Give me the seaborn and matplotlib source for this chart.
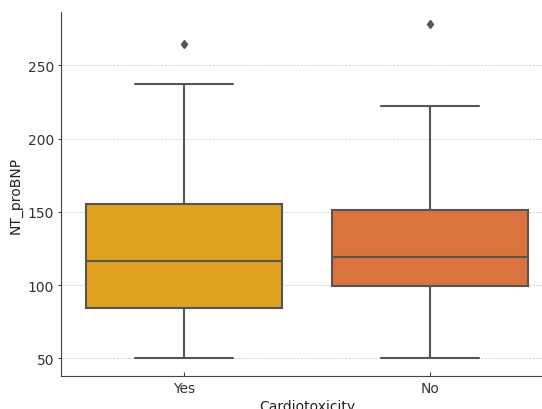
import matplotlib
matplotlib.use("Agg")
import matplotlib.pyplot as plt
import seaborn as sns
import pandas as pd

categories = ["Yes", "No"]
yes_values = [50, 70, 84, 100, 116.5, 140, 155.5, 237.5, 264.5]
no_values = [50, 80, 99.5, 110, 119.5, 135, 151.5, 222, 278]
colors = ["#DFA320", "#DB733C"]

df = pd.DataFrame({
    "Cardiotoxicity": ["Yes"] * len(yes_values) + ["No"] * len(no_values),
    "NT_proBNP": yes_values + no_values,
})

sns.set_style("ticks")
plt.rcParams["font.family"] = ["DejaVu Sans"]

fig = plt.figure(figsize=(5.42, 4.10), dpi=100)
ax = fig.add_axes([61/542, (410-376.7)/410, 492/542, (376.7-13.3)/410])

sns.boxplot(data=df, x="Cardiotoxicity", y="NT_proBNP", order=categories,
            hue="Cardiotoxicity", hue_order=categories, palette=colors,
            legend=False, ax=ax, width=0.8, linewidth=1.5, linecolor="#555555",
            saturation=1,
            flierprops=dict(marker="d", markersize=4.5, markerfacecolor="#555555",
                            markeredgecolor="#555555"))

ax.set_ylim(38.1, 286.3)
ax.set_xlim(-0.5, 1.5)
ax.yaxis.grid(True, linestyle="--", linewidth=0.5, color="#cccccc")
ax.set_axisbelow(True)
for s in ["top", "right"]:
    ax.spines[s].set_visible(False)
for s in ["left", "bottom"]:
    ax.spines[s].set_color("#444444")
ax.tick_params(axis="both", labelsize=10, colors="#444444", labelcolor="#333333")
ax.tick_params(axis="x", direction="in", length=3, pad=4)
ax.tick_params(axis="y", direction="out", length=2, pad=3)
ax.set_xlabel("Cardiotoxicity", fontsize=10, color="#222222", labelpad=2.5)
ax.set_ylabel("NT_proBNP", fontsize=10, color="#222222", labelpad=4)
ax.set_yticks([50, 100, 150, 200, 250])

fig.savefig("out.png", dpi=100)
